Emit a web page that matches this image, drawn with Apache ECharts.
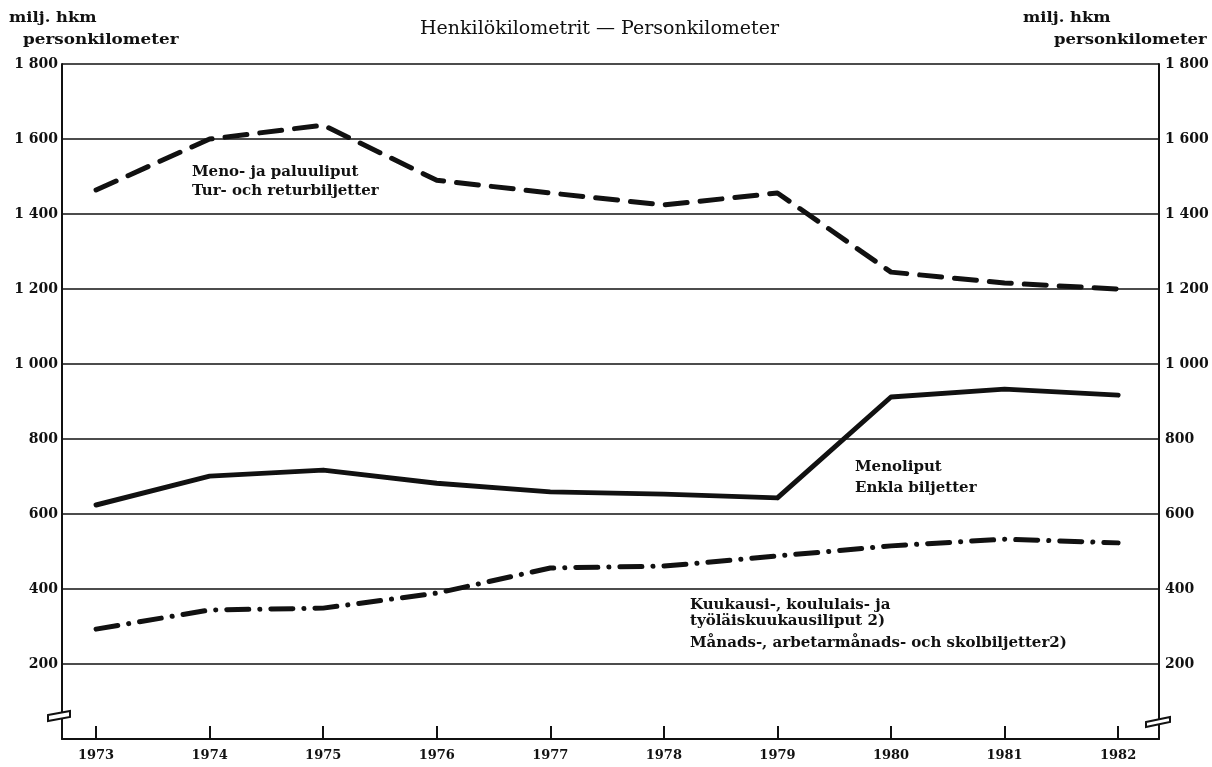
<!DOCTYPE html>
<html>
<head>
<meta charset="utf-8">
<script src="https://cdn.jsdelivr.net/npm/echarts@6/dist/echarts.min.js"></script>
<style>
  html, body { margin: 0; padding: 0; background: #fff; }
  #chart { width: 1212px; height: 767px; }
</style>
</head>
<body>
<div id="chart"></div>
<script>
// data (milj. hkm)
const years = [1973, 1974, 1975, 1976, 1977, 1978, 1979, 1980, 1981, 1982];
const returnTickets = [1464, 1600, 1637, 1490, 1456, 1424, 1456, 1245, 1216, 1200];
const singleTickets = [624, 701, 717, 682, 659, 653, 643, 912, 933, 917];
const seasonTickets = [293, 344, 349, 389, 456, 461, 488, 515, 533, 523];
const yMin = 0;
const yMax = 1800;
const yStep = 200;

const labelFont = '"DejaVu Serif", serif';
const ink = '#111';

function pairs(vals) {
  return years.map((y, i) => [y, vals[i]]);
}

// "1 800" style, no label at the zero line
function fmtY(v) {
  if (v === 0) return '';
  return v >= 1000 ? String(v).replace(/(\d)(\d{3})$/, '$1 $2') : String(v);
}

const chart = echarts.init(document.getElementById('chart'));

const yAxisBase = {
  type: 'value',
  min: yMin,
  max: yMax,
  interval: yStep,
  axisLine: { show: true, lineStyle: { color: ink, width: 2 } },
  axisTick: { show: false },
  splitLine: { show: true, lineStyle: { color: ink, width: 1.5 } },
  axisLabel: {
    formatter: fmtY,
    color: ink,
    fontFamily: labelFont,
    fontWeight: 'bold',
    fontSize: 14,
    margin: 4
  }
};

const option = {
  backgroundColor: '#fff',
  animation: false,
  grid: { left: 62, right: 53, top: 64, bottom: 28 },
  xAxis: {
    type: 'value',
    min: 1972.70,
    max: 1982.36,
    axisLine: { show: true, onZero: false, lineStyle: { color: ink, width: 2 } },
    splitLine: { show: false },
    axisTick: {
      show: true,
      inside: true,
      length: 13,
      customValues: years,
      lineStyle: { color: ink, width: 2 }
    },
    axisLabel: {
      customValues: years,
      formatter: v => String(v),
      color: ink,
      fontFamily: labelFont,
      fontWeight: 'bold',
      fontSize: 13,
      margin: 10
    }
  },
  yAxis: [
    Object.assign({}, yAxisBase, { position: 'left' }),
    Object.assign({}, yAxisBase, {
      position: 'right',
      splitLine: { show: false },
      axisLabel: Object.assign({}, yAxisBase.axisLabel, { margin: 6 })
    })
  ],
  series: [
    {
      name: 'Meno- ja paluuliput',
      type: 'line',
      data: pairs(returnTickets),
      symbol: 'none',
      lineStyle: { color: ink, width: 5, type: [22, 13], cap: 'round', join: 'round' }
    },
    {
      name: 'Menoliput',
      type: 'line',
      data: pairs(singleTickets),
      symbol: 'none',
      lineStyle: { color: ink, width: 5, type: 'solid', cap: 'round', join: 'round' }
    },
    {
      name: 'Kuukausiliput',
      type: 'line',
      data: pairs(seasonTickets),
      symbol: 'none',
      lineStyle: { color: ink, width: 5, type: [22, 11, 0.1, 11], cap: 'round', join: 'round' }
    }
  ],
  graphic: [
    // title
    { type: 'text', left: 420, top: 20,
      style: { text: 'Henkilökilometrit — Personkilometer', fill: ink, font: 'normal 19px ' + labelFont } },
    // unit labels
    { type: 'text', left: 9, top: 11, scaleX: 1.09,
      style: { text: 'milj. hkm', fill: ink, font: 'bold 15px ' + labelFont } },
    { type: 'text', left: 23, top: 33, scaleX: 1.12,
      style: { text: 'personkilometer', fill: ink, font: 'bold 15px ' + labelFont } },
    { type: 'text', left: 1023, top: 11, scaleX: 1.09,
      style: { text: 'milj. hkm', fill: ink, font: 'bold 15px ' + labelFont } },
    { type: 'text', left: 1054, top: 33, scaleX: 1.1,
      style: { text: 'personkilometer', fill: ink, font: 'bold 15px ' + labelFont } },
    // series labels
    { type: 'text', left: 192, top: 163,
      style: { text: 'Meno- ja paluuliput\nTur- och returbiljetter', fill: ink, lineHeight: 19,
               font: 'bold 15px ' + labelFont } },
    { type: 'text', left: 855, top: 457,
      style: { text: 'Menoliput\nEnkla biljetter', fill: ink, lineHeight: 21,
               font: 'bold 15px ' + labelFont } },
    { type: 'text', left: 690, top: 597,
      style: { text: 'Kuukausi-, koululais- ja\ntyöläiskuukausiliput 2)', fill: ink, lineHeight: 16,
               font: 'bold 15px ' + labelFont } },
    { type: 'text', left: 690, top: 636,
      style: { text: 'Månads-, arbetarmånads- och skolbiljetter2)', fill: ink,
               font: 'bold 15px ' + labelFont } },
    // axis break marks
    { type: 'polygon', z: 10,
      shape: { points: [[48, 715], [70, 711], [70, 717], [48, 721]] },
      style: { fill: '#fff', stroke: ink, lineWidth: 2 } },
    { type: 'polygon', z: 10,
      shape: { points: [[1146, 722], [1170, 717], [1170, 722], [1146, 727]] },
      style: { fill: '#fff', stroke: ink, lineWidth: 2 } }
  ]
};

chart.setOption(option);
</script>
</body>
</html>
